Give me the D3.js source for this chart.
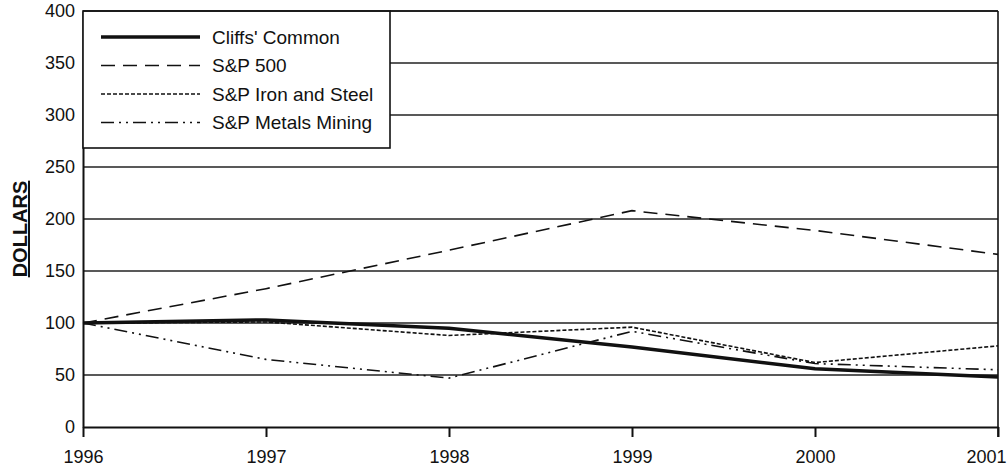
<!DOCTYPE html>
<html>
<head>
<meta charset="utf-8">
<script src="https://cdn.jsdelivr.net/npm/d3@7"></script>
<style>
  body { margin: 0; background: #fff; }
  svg text { font-family: "Liberation Sans", Arial, sans-serif; fill: #111; }
</style>
</head>
<body>
<svg id="chart" width="1008" height="467"></svg>
<script>
// data
let years = [1996, 1997, 1998, 1999, 2000, 2001]
let cliffs = [100, 103, 95, 77, 56, 48]
let sp500 = [100, 133, 170, 208, 189, 166]
let ironSteel = [100, 101, 88, 96, 62, 78]
let metalsMining = [100, 65, 47, 92, 61, 55]
let yTicks = [0, 50, 100, 150, 200, 250, 300, 350, 400]

let seriesNames = ["Cliffs' Common", 'S&P 500', 'S&P Iron and Steel', 'S&P Metals Mining']
let seriesValues = [cliffs, sp500, ironSteel, metalsMining]
let seriesStyle = [
  { width: 3.5, dash: null },
  { width: 1.6, dash: '14,8' },
  { width: 1.6, dash: '4,2' },
  { width: 1.6, dash: '13,5,2,5,2,5' }
]

let margin = { top: 11, right: 10, bottom: 40, left: 83 }
let width = 1008 - margin.left - margin.right
let height = 467 - margin.top - margin.bottom

let svg = d3.select('#chart')
let g = svg.append('g')
    .attr('transform', 'translate(' + margin.left + ',' + margin.top + ')')

let x = d3.scaleLinear().domain([1996, 2001]).range([0, width])
let y = d3.scaleLinear().domain([0, 400]).range([height, 0])

// legend box size (grid lines above it start at its right edge)
let legendW = 307, legendH = 137

// grid lines
g.selectAll('.grid')
  .data(yTicks.filter(d => d > 0))
  .enter().append('line')
    .attr('x1', d => y(d) < legendH ? legendW : 0)
    .attr('x2', width)
    .attr('y1', d => y(d))
    .attr('y2', d => y(d))
    .attr('stroke', '#222')
    .attr('stroke-width', 1.4)

// right border
g.append('line')
  .attr('x1', width).attr('x2', width)
  .attr('y1', 0).attr('y2', height + 10)
  .attr('stroke', '#111').attr('stroke-width', 1.6)

// y axis
let yAxis = g.append('g')
  .call(d3.axisLeft(y).tickValues(yTicks).tickSize(0).tickPadding(8))
yAxis.select('.domain').attr('stroke', '#111').attr('stroke-width', 2)
yAxis.selectAll('text').attr('font-size', 18).attr('fill', '#111')

// x axis
let xAxis = g.append('g')
  .attr('transform', 'translate(0,' + height + ')')
  .call(d3.axisBottom(x).tickValues(years).tickFormat(d3.format('d')).tickSize(10).tickSizeOuter(0).tickPadding(13))
xAxis.select('.domain').attr('stroke', '#111').attr('stroke-width', 1.8)
xAxis.selectAll('line').attr('stroke', '#111').attr('stroke-width', 2)
xAxis.selectAll('text').attr('font-size', 18).attr('fill', '#111')
// last year label sits pushed in against the right edge
xAxis.selectAll('.tick text').filter(d => d === 2001).attr('dx', -12)

// y title
svg.append('text')
  .attr('transform', 'translate(27,229) rotate(-90)')
  .attr('text-anchor', 'middle')
  .attr('font-size', 20)
  .attr('font-weight', 'bold')
  .attr('text-decoration', 'underline')
  .text('DOLLARS')

// lines
let line = d3.line()
  .x((d, i) => x(years[i]))
  .y(d => y(d))

g.selectAll('.series')
  .data(seriesValues)
  .enter().append('path')
    .attr('class', 'series')
    .attr('d', d => line(d))
    .attr('fill', 'none')
    .attr('stroke', '#111')
    .attr('stroke-width', (d, i) => seriesStyle[i].width)
    .attr('stroke-dasharray', (d, i) => seriesStyle[i].dash)

// legend
let legend = g.append('g')
legend.append('rect')
  .attr('x', 0).attr('y', 0)
  .attr('width', legendW).attr('height', legendH)
  .attr('fill', '#fff')
  .attr('stroke', '#111').attr('stroke-width', 1.6)

let rows = legend.selectAll('.row')
  .data(seriesNames)
  .enter().append('g')
    .attr('transform', (d, i) => 'translate(0,' + (26 + i * 28.5) + ')')

rows.append('line')
  .attr('x1', 18).attr('x2', 117)
  .attr('stroke', '#111')
  .attr('stroke-width', (d, i) => seriesStyle[i].width)
  .attr('stroke-dasharray', (d, i) => seriesStyle[i].dash)

rows.append('text')
  .attr('x', 129)
  .attr('dy', '0.35em')
  .attr('font-size', 19)
  .text(d => d)

// top border over legend edge
g.append('line')
  .attr('x1', 0).attr('x2', width)
  .attr('y1', 0).attr('y2', 0)
  .attr('stroke', '#111').attr('stroke-width', 1.6)
</script>
</body>
</html>
